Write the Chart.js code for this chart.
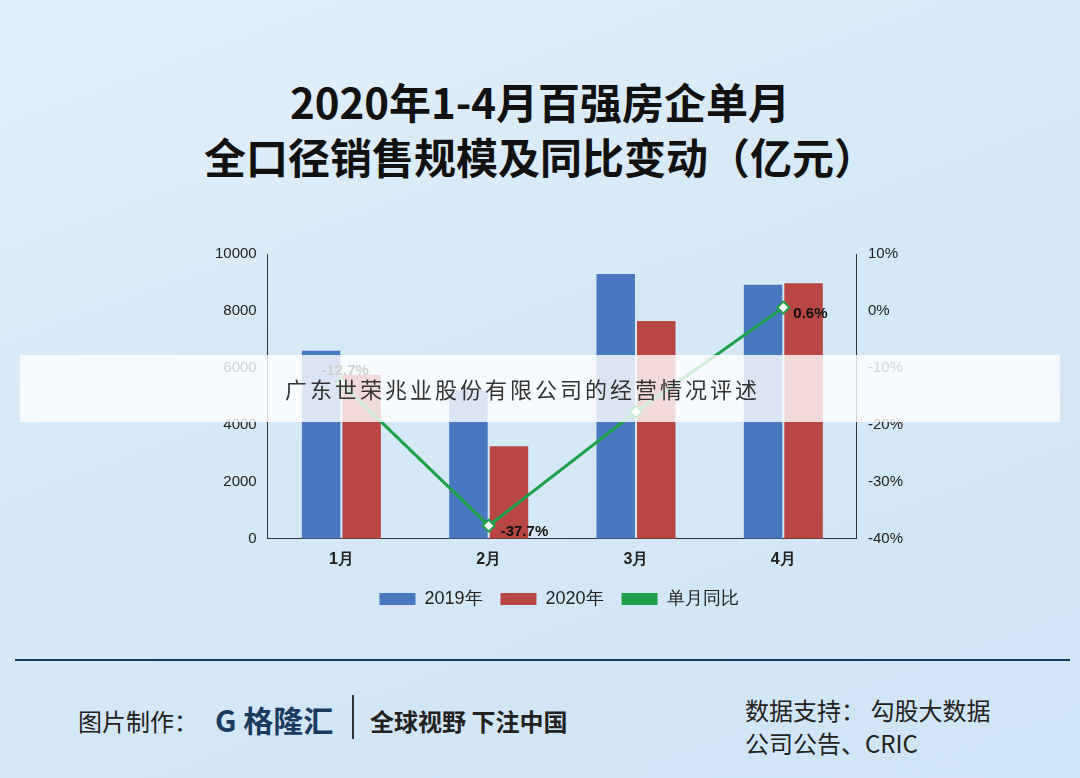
<!DOCTYPE html>
<html><head><meta charset="utf-8">
<script src="https://cdn.jsdelivr.net/npm/chart.js@4"></script>
<style>
body{margin:0;width:1080px;height:778px;overflow:hidden;font-family:"Noto Sans CJK SC",sans-serif;
background:linear-gradient(160deg,#e4f1fb 0%,#d6e9f7 40%,#cfe4f5 100%);position:relative}
.t{position:absolute;left:0;width:1080px;text-align:center;font-weight:bold;color:#111;font-size:42px;line-height:56px}
#wrap{position:absolute;left:212px;top:242px;width:694px;height:376px}
.banner{position:absolute;left:20px;top:355px;width:1040px;height:67px;background:rgba(255,255,255,0.8);font-size:22px;color:#333;line-height:67px;padding-left:265px;box-sizing:border-box;letter-spacing:3px}
.hr{position:absolute;left:15px;top:659px;width:1055px;height:2px;background:#1a3a60}
.f{position:absolute;font-size:24px;font-weight:bold;color:#222}
</style></head><body>
<div class="t" style="top:73px">2020年1-4月百强房企单月</div>
<div class="t" style="top:128px">全口径销售规模及同比变动（亿元）</div>
<div id="wrap"><canvas id="c"></canvas></div>
<div class="banner">广东世荣兆业股份有限公司的经营情况评述</div>
<div class="hr"></div>
<div class="f" style="left:78px;top:703px;font-weight:normal">图片制作：</div>
<div class="f" style="left:215px;top:697px;font-size:30px;color:#1a3a60">G 格隆汇</div>
<div class="f" style="left:352px;top:695px;width:2px;height:44px;background:#333"></div>
<div class="f" style="left:370px;top:703px">全球视野 下注中国</div>
<div class="f" style="left:745px;top:692px;font-weight:normal">数据支持： 勾股大数据</div>
<div class="f" style="left:745px;top:725px;font-weight:normal">公司公告、CRIC</div>
<script>
const categories=["1月","2月","3月","4月"];
const sales2019=[6600,5220,9300,8920];
const sales2020=[5760,3250,7650,8970];
const yoy=[-12.7,-37.7,-17.7,0.6];
const order={"2019年":0,"2020年":1,"单月同比":2};
const labelPlugin={id:"lbl",afterDatasetsDraw(ch){
 const ctx=ch.ctx,m=ch.getDatasetMeta(0);ctx.save();ctx.font="bold 15px 'Liberation Sans'";ctx.fillStyle="#111";
 [[0,-20,-12],[1,12,6],[3,10,6]].forEach(([i,dx,dy])=>{const p=m.data[i];ctx.fillText(yoy[i].toFixed(1)+"%",p.x+dx,p.y+dy);});
 ctx.restore();}};
new Chart(document.getElementById("c"),{
 data:{labels:categories,datasets:[
  {type:"line",label:"单月同比",data:yoy,yAxisID:"y2",borderColor:"#1fa04a",borderWidth:3,pointStyle:"rectRot",pointRadius:6,pointBackgroundColor:"#fff",pointBorderColor:"#1fa04a",pointBorderWidth:2,order:0},
  {type:"bar",label:"2019年",data:sales2019,backgroundColor:"#4a78c0",yAxisID:"y",order:1,barPercentage:0.95,categoryPercentage:0.55},
  {type:"bar",label:"2020年",data:sales2020,backgroundColor:"#b84744",yAxisID:"y",order:1,barPercentage:0.95,categoryPercentage:0.55}
 ]},
 options:{responsive:true,maintainAspectRatio:false,animation:false,
  layout:{padding:{top:10}},
  plugins:{legend:{position:"bottom",labels:{boxWidth:36,boxHeight:12,font:{size:18},color:"#222",padding:18,
    generateLabels:ch=>Chart.defaults.plugins.legend.labels.generateLabels(ch).map(l=>l.text=="单月同比"?Object.assign(l,{fillStyle:"#1fa04a",strokeStyle:"#1fa04a",lineWidth:0}):l),
    sort:(a,b)=>order[a.text]-order[b.text]}},tooltip:{enabled:false}},
  scales:{
   x:{grid:{display:false},border:{color:"#333"},ticks:{font:{size:16,weight:"bold"},color:"#222"}},
   y:{min:0,max:10000,ticks:{stepSize:2000,callback:v=>String(v),font:{size:15},color:"#222"},grid:{display:false},border:{color:"#333"}},
   y2:{position:"right",min:-40,max:10,ticks:{stepSize:10,callback:v=>v+"%",font:{size:15},color:"#222"},grid:{display:false},border:{color:"#333"}}
  }},
 plugins:[labelPlugin]});
</script>
</body></html>
